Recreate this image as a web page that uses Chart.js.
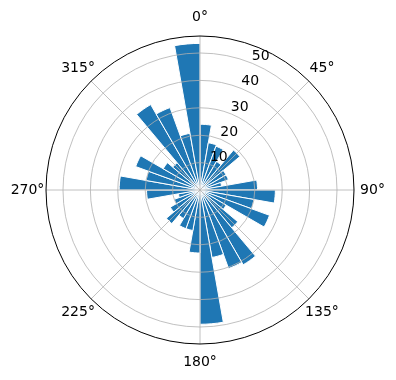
<!DOCTYPE html>
<html>
<head>
<meta charset="utf-8">
<script src="https://cdn.jsdelivr.net/npm/chart.js@4/dist/chart.umd.min.js"></script>
<style>
  html, body { margin: 0; padding: 0; background: #fff; }
</style>
</head>
<body>
<canvas id="chartCanvas" width="396" height="380"></canvas>
<script>
// Direction bins (start of each 10 degree sector, clockwise from north)
const binStarts = [0, 10, 20, 30, 40, 50, 60, 70, 80, 90, 100, 110,
                   120, 130, 140, 150, 160, 170, 180, 190, 200, 210, 220, 230,
                   240, 250, 260, 270, 280, 290, 300, 310, 320, 330, 340, 350];
// Bar heights
const counts = [24, 17.5, 17, 12, 19, 11, 11, 8, 21, 27.5, 20, 27,
                11, 18, 31.5, 30.5, 25, 49, 23, 15, 15, 12, 16, 12.5,
                10, 8, 19.5, 29.5, 20, 25, 15.5, 13, 36, 32, 21, 53.5];
const radialTicks = [10, 20, 30, 40, 50];
const radialTickLabels = ['10', '20', '30', '40', '50'];
const angleTicks = [0, 45, 90, 135, 180, 225, 270, 315];
const angleTickLabels = ['0°', '45°', '90°', '135°', '180°', '225°', '270°', '315°'];
const rMax = 56.2;

// grid is drawn over the bars, like matplotlib polar axes
const polarGrid = {
    id: 'polarGrid',
    afterDatasetsDraw(chart) {
        const scale = chart.scales.r;
        const ctx = chart.ctx;
        const cx = scale.xCenter;
        const cy = scale.yCenter;
        const outer = scale.getDistanceFromCenterForValue(rMax);
        const toXY = (deg, r) => {
            const t = (deg - 90) * Math.PI / 180;
            return [cx + r * Math.cos(t), cy + r * Math.sin(t)];
        };
        ctx.save();
        ctx.strokeStyle = '#b0b0b0';
        ctx.lineWidth = 0.8;
        radialTicks.forEach(v => {
            ctx.beginPath();
            ctx.arc(cx, cy, scale.getDistanceFromCenterForValue(v), 0, Math.PI * 2);
            ctx.stroke();
        });
        angleTicks.forEach(a => {
            const [x, y] = toXY(a, outer);
            ctx.beginPath();
            ctx.moveTo(cx, cy);
            ctx.lineTo(x, y);
            ctx.stroke();
        });
        // outer spine
        ctx.strokeStyle = '#000';
        ctx.lineWidth = 1;
        ctx.beginPath();
        ctx.arc(cx, cy, outer, 0, Math.PI * 2);
        ctx.stroke();

        ctx.fillStyle = '#000';
        ctx.font = '14px "DejaVu Sans"';
        ctx.textAlign = 'center';
        ctx.textBaseline = 'middle';
        angleTicks.forEach((a, i) => {
            const [x, y] = toXY(a, outer + 18.5);
            ctx.fillText(angleTickLabels[i], x, y);
        });
        radialTicks.forEach((v, i) => {
            const [x, y] = toXY(22.5, scale.getDistanceFromCenterForValue(v));
            ctx.fillText(radialTickLabels[i], x + 8.3, y - 7);
        });
        ctx.restore();
    }
};

const config = {
    type: 'polarArea',
    data: {
        labels: binStarts.map(d => `${d}°`),
        datasets: [{
            data: counts,
            backgroundColor: '#1f77b4',
            borderColor: '#ffffff',
            borderWidth: 1
        }]
    },
    options: {
        responsive: false,
        animation: false,
        layout: {
            padding: { left: 46, right: 42, top: 36, bottom: 36 }
        },
        plugins: {
            legend: { display: false },
            tooltip: { enabled: false }
        },
        scales: {
            r: {
                min: 0,
                max: rMax,
                startAngle: 0,
                ticks: { display: false, stepSize: 10 },
                grid: { display: false },
                angleLines: { display: false },
                pointLabels: { display: false }
            }
        }
    },
    plugins: [polarGrid]
};

const ctx = document.getElementById('chartCanvas').getContext('2d');
const chart = new Chart(ctx, config);
</script>
</body>
</html>
